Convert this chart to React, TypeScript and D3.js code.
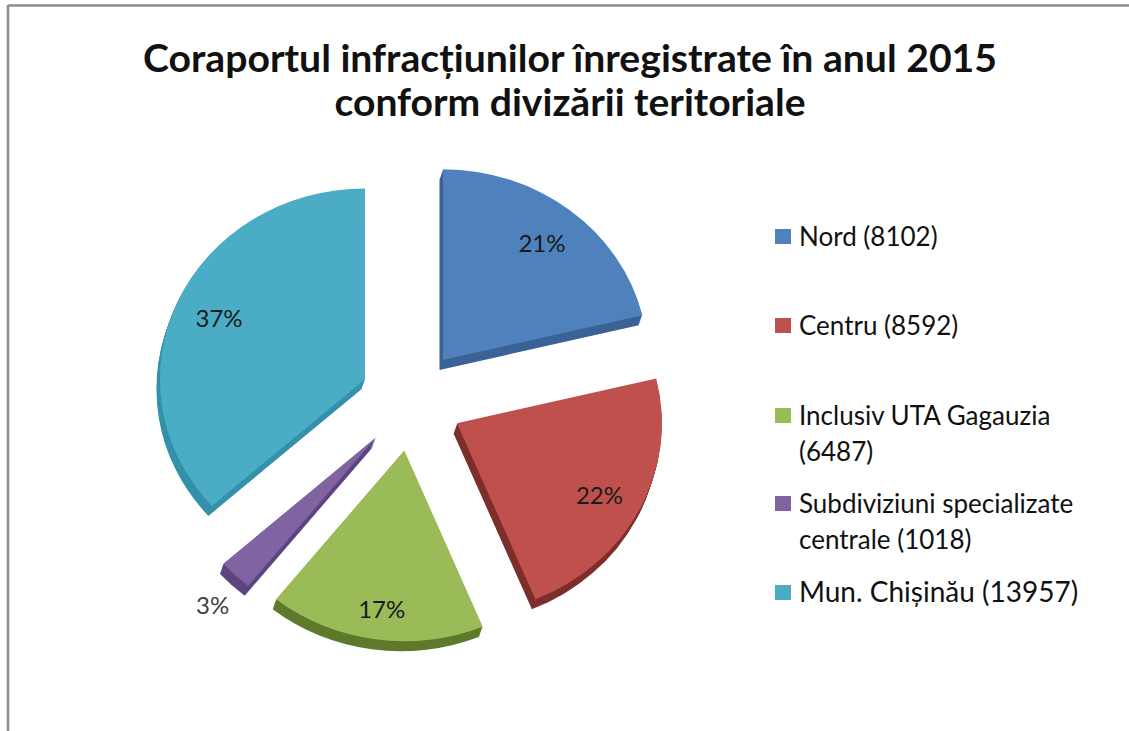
import React from "react";
import * as d3 from "d3";

const categories = [
  "Nord (8102)",
  "Centru (8592)",
  "Inclusiv UTA Gagauzia (6487)",
  "Subdiviziuni specializate centrale (1018)",
  "Mun. Chișinău (13957)",
];
const values = [8102, 8592, 6487, 1018, 13957];
const percentLabels = ["21%", "22%", "17%", "3%", "37%"];
const legendLines = [
  ["Nord (8102)"],
  ["Centru (8592)"],
  ["Inclusiv UTA Gagauzia", "(6487)"],
  ["Subdiviziuni specializate", "centrale (1018)"],
  ["Mun. Chișinău (13957)"],
];
const colors = ["#4f81bd", "#c0504d", "#9bbb59", "#8064a2", "#4bacc6"];
const sideColors = ["#3b6396", "#7e2f2c", "#5e7a2c", "#5e4680", "#3591aa"];
const titleLines = [
  "Coraportul infracțiunilor înregistrate în anul 2015",
  "conform divizării teritoriale",
];

const W = 1129;
const H = 731;
const cx = 411.5;
const cy = 400;
const r = 205;
const tilt = 0.93;
const explode = 51;
const depth = 10;

export default function App() {
  const pie = d3.pie<number>().sort(null).value((d) => d)(values);
  const arc = d3.arc<d3.PieArcDatum<number>>().innerRadius(0).outerRadius(r);
  const total = d3.sum(values);

  const slices = pie.map((p, i) => {
    const mid = (p.startAngle + p.endAngle) / 2;
    const ax = cx + explode * Math.sin(mid);
    const ay = cy - explode * Math.cos(mid);
    const share = p.value / total;
    const lr = share < 0.05 ? r * 1.16 : r * 0.78;
    const lx = ax + lr * Math.sin(mid);
    // labels near the front sit a bit lower (perspective)
    const ly = ay - lr * Math.cos(mid) * tilt + Math.max(0, -Math.cos(mid)) * 12;
    return { p, i, ax, ay, lx, ly, path: arc(p) || "", outside: share < 0.05 };
  });

  const layers = d3.range(depth, 0, -1);

  return (
    <svg
      width={W}
      height={H}
      style={{ position: "fixed", left: 0, top: 0, background: "#fff" }}
      fontFamily="Lato, 'Open Sans', sans-serif"
    >
      <rect x={0} y={0} width={W} height={H} fill="#fff" />
      <line x1={8} y1={5.5} x2={W} y2={5.5} stroke="#8c8c8c" strokeWidth={2.5} />
      <line x1={8} y1={5} x2={8} y2={H} stroke="#8c8c8c" strokeWidth={2.5} />

      {titleLines.map((t, i) => (
        <text
          key={t}
          x={570}
          y={72 + i * 44}
          textAnchor="middle"
          fontSize={38}
          fontWeight="bold"
          fill="#111"
          textLength={i === 0 ? 854 : 471}
          lengthAdjust="spacingAndGlyphs"
        >
          {t}
        </text>
      ))}

      {slices.map((s) => (
        <g key={categories[s.i]}>
          {layers.map((j) => (
            <path
              key={j}
              d={s.path}
              fill={sideColors[s.i]}
              transform={`translate(${s.ax - j * 0.35},${s.ay + j}) scale(1,${tilt})`}
            />
          ))}
          <path
            d={s.path}
            fill={colors[s.i]}
            transform={`translate(${s.ax},${s.ay}) scale(1,${tilt})`}
          />
        </g>
      ))}

      {slices.map((s) => (
        <text
          key={"l" + s.i}
          x={s.lx}
          y={s.ly}
          dy="0.35em"
          textAnchor="middle"
          fontSize={24}
          fill={s.outside ? "#404040" : "#1a1a1a"}
        >
          {percentLabels[s.i]}
        </text>
      ))}

      {legendLines.map((lines, i) => {
        const ys = [246, 335, 425, 513, 602];
        const big = i === 4;
        return (
          <g key={"lg" + i}>
            <rect x={775} y={ys[i] - 17} width={16} height={15} fill={colors[i]} />
            {lines.map((ln, k) => (
              <text
                key={ln}
                x={799}
                y={ys[i] + k * 35.5}
                fontSize={big ? 28 : 26}
                fill="#111"
              >
                {ln}
              </text>
            ))}
          </g>
        );
      })}
    </svg>
  );
}
